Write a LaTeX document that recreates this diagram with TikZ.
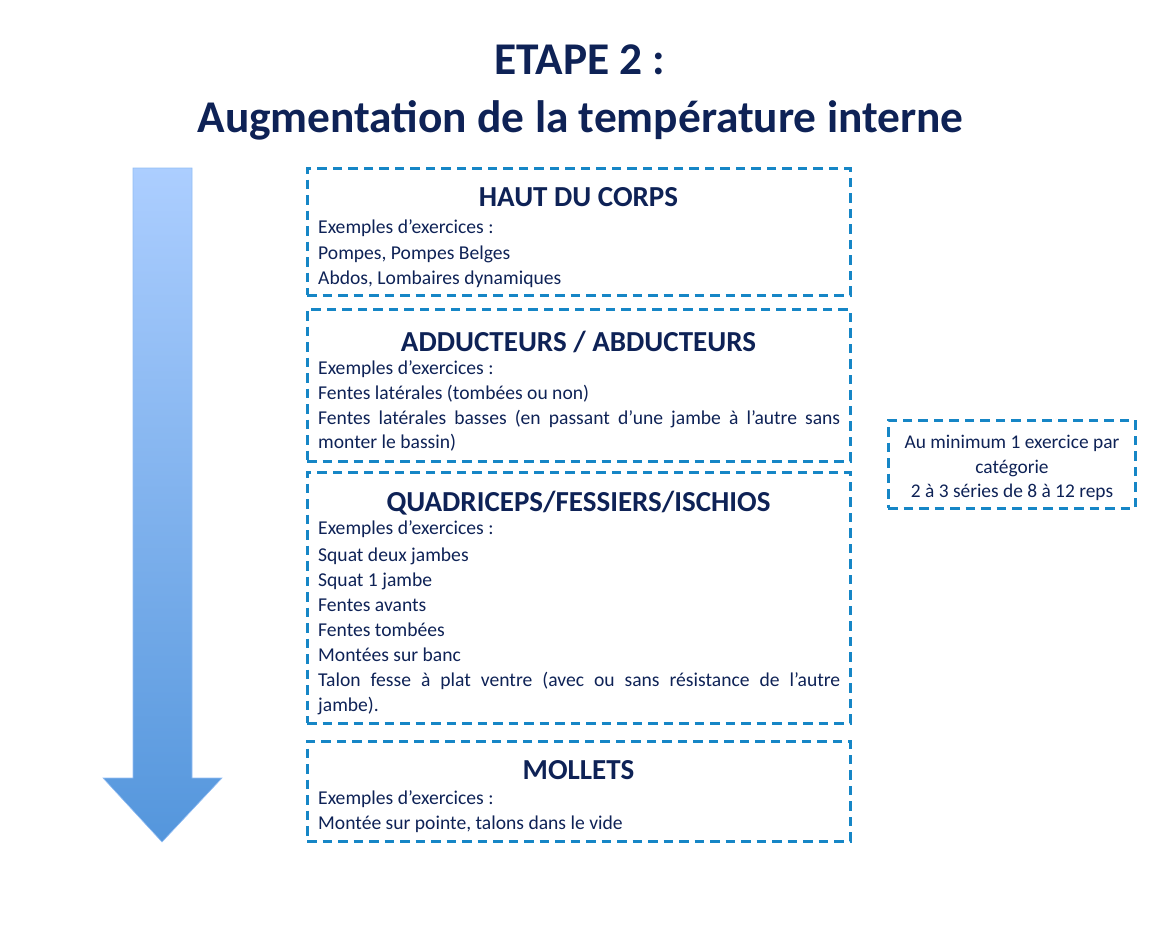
\documentclass[tikz,border=0pt]{standalone}
\usepackage{fontspec}
\setmainfont{Carlito}
\usetikzlibrary{shapes.geometric}
\definecolor{navy}{RGB}{14,34,86}
\definecolor{dashblue}{RGB}{22,134,198}
\definecolor{arrtop}{RGB}{172,206,255}
\definecolor{arrbot}{RGB}{84,150,220}
\tikzset{
  dbox/.style={draw=dashblue, line width=3pt, dash pattern=on 9.5pt off 6pt, inner sep=0pt},
  txt/.style={text=navy, inner sep=0pt, anchor=base west, font=\fontsize{19.6}{22}\selectfont},
  ctxt/.style={text=navy, inner sep=0pt, anchor=base, font=\fontsize{19.4}{22}\selectfont},
  head/.style={text=navy, inner sep=0pt, anchor=base, font=\fontsize{29}{32}\selectfont\bfseries},
  ttl/.style={text=navy, inner sep=0pt, anchor=base, font=\fontsize{45.4}{48}\selectfont\bfseries},
}
\begin{document}
\begin{tikzpicture}[x=1pt,y=-1pt]
\useasboundingbox (0,0) rectangle (1161,939);
% title
\node[ttl] (t1) at (580,75) {ETAPE 2 :};
\node[ttl] (t2) at (580.5,132) {Augmentation de la température interne};
% arrow
\path[top color=arrtop, bottom color=arrbot, draw=arrtop!70!arrbot, line width=0.6pt]
  (133,168) -- (192,168) -- (192,778) -- (222,778) -- (162,842) -- (103,778) -- (133,778) -- cycle;
% boxes
\node[dbox, minimum width=543pt, minimum height=127pt] (b1) at (578.5,231.5) {};
\node[dbox, minimum width=543pt, minimum height=152pt] (b2) at (578.5,385) {};
\node[dbox, minimum width=543pt, minimum height=251pt] (b3) at (578.5,597.5) {};
\node[dbox, minimum width=543pt, minimum height=100pt] (b4) at (578.5,791) {};
\node[dbox, minimum width=247pt, minimum height=88pt] (b5) at (1011.5,464) {};
% box 1
\node[head] (h1) at (578.5,206.5) {HAUT DU CORPS};
\node[txt] (b1a) at (318,233.5) {Exemples d’exercices :};
\node[txt] (b1b) at (318,259) {Pompes, Pompes Belges};
\node[txt] (b1c) at (318,284) {Abdos, Lombaires dynamiques};
% box 2
\node[head] (h2) at (578.5,351) {ADDUCTEURS / ABDUCTEURS};
\node[txt] (b2a) at (318,374) {Exemples d’exercices :};
\node[txt] (b2b) at (318,399.3) {Fentes latérales (tombées ou non)};
\node[txt] (b2c) at (318,424.3) {\makebox[522pt][s]{Fentes latérales basses (en passant d’une jambe à l’autre sans}};
\node[txt] (b2d) at (318,448) {monter le bassin)};
% box 3
\node[head] (h3) at (578.5,511) {QUADRICEPS/FESSIERS/ISCHIOS};
\node[txt] (b3a) at (318,534.5) {Exemples d’exercices :};
\node[txt] (b3b) at (318,561) {Squat deux jambes};
\node[txt] (b3c) at (318,586) {Squat 1 jambe};
\node[txt] (b3d) at (318,611.5) {Fentes avants};
\node[txt] (b3e) at (318,636.5) {Fentes tombées};
\node[txt] (b3f) at (318,661.5) {Montées sur banc};
\node[txt] (b3g) at (318,686.5) {\makebox[522pt][s]{Talon fesse à plat ventre (avec ou sans résistance de l’autre}};
\node[txt] (b3h) at (318,711.5) {jambe).};
% box 4
\node[head] (h4) at (578.5,779) {MOLLETS};
\node[txt] (b4a) at (318,804) {Exemples d’exercices :};
\node[txt] (b4b) at (318,829) {Montée sur pointe, talons dans le vide};
% side box
\node[ctxt] (s1) at (1012,448.5) {Au minimum 1 exercice par};
\node[ctxt] (s2) at (1012,473.5) {catégorie};
\node[ctxt] (s3) at (1012,497.5) {2 à 3 séries de 8 à 12 reps};
\end{tikzpicture}
\end{document}
